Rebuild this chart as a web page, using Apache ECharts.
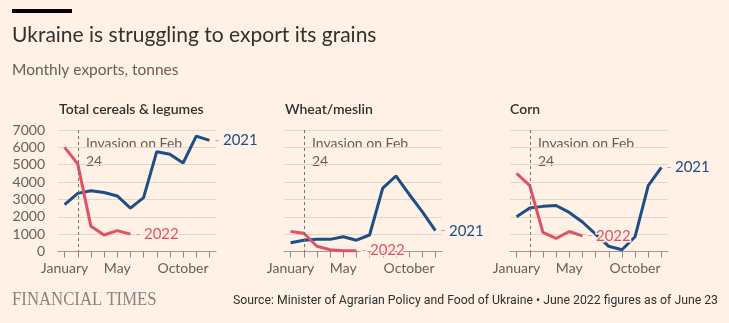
<!DOCTYPE html>
<html>
<head>
<meta charset="utf-8">
<script src="https://cdn.jsdelivr.net/npm/echarts@6/dist/echarts.min.js"></script>
<style>
html,body{margin:0;padding:0;background:#fff1e5;}
#c{width:729px;height:323px;}
</style>
</head>
<body>
<div id="c"></div>
<script>
// ---- Data ----
var months = ['Jan','Feb','Mar','Apr','May','Jun','Jul','Aug','Sep','Oct','Nov','Dec'];
var tickLabels = ['January','','','','May','','','','','October','',''];
var yTicks = [0,1000,2000,3000,4000,5000,6000,7000];
var panelTitles = ['Total cereals & legumes','Wheat/meslin','Corn'];

var total2021 = [2700,3350,3500,3400,3200,2500,3100,5750,5600,5100,6650,6400];
var total2022 = [6000,5050,1450,950,1200,1000];
var wheat2021 = [500,650,700,700,850,650,950,3650,4350,3300,2300,1200];
var wheat2022 = [1150,1050,300,100,50,50];
var corn2021  = [2000,2500,2600,2650,2250,1700,1000,300,100,850,3800,4850];
var corn2022  = [4500,3800,1100,750,1150,900];

var annotation = ['Invasion on Feb','24'];
var invasionMonth = 'Feb';
var sourceText = 'Source: Minister of Agrarian Policy and Food of Ukraine \u2022 June 2022 figures as of June 23';

// ---- Style ----
var BG = '#fff1e5';
var BLUE = '#1d4f86';
var RED = '#e25266';
var GRID = '#e3d6cb';
var TXT = '#33302e';
var SUB = '#66605c';
var FONT = 'Lato, "Open Sans", sans-serif';

var chart = echarts.init(document.getElementById('c'), null, {renderer:'canvas'});

var lefts = [58, 284, 510];
var grids = [], xAxes = [], yAxes = [], series = [];
var data21 = [total2021, wheat2021, corn2021];
var data22 = [total2022, wheat2022, corn2022];

function endLabel(color, year){
  return {
    show:true, distance:5,
    formatter:'{d|-} {t|'+year+'}',
    rich:{
      d:{color:'#b3aaa2', fontSize:14, fontFamily:FONT, textBorderColor:BG, textBorderWidth:3},
      t:{color:color, fontSize:15, fontFamily:FONT, textBorderColor:BG, textBorderWidth:3}
    }
  };
}

for (var i=0;i<3;i++){
  grids.push({left:lefts[i], top:130, width:158, height:121.5, containLabel:false});
  xAxes.push({
    type:'category', gridIndex:i, data:months, boundaryGap:true,
    axisLine:{show:true, lineStyle:{color:'#a39a93', width:1}},
    axisTick:{show:true, alignWithLabel:true, interval:0, length:6, lineStyle:{color:'#8f8781'}},
    axisLabel:{
      interval:function(idx){ return tickLabels[idx] !== ''; },
      formatter:function(v, idx){ return tickLabels[idx]; },
      color:SUB, fontSize:14, fontFamily:FONT, margin:10
    },
    splitLine:{show:false}
  });
  yAxes.push({
    type:'value', gridIndex:i, min:yTicks[0], max:yTicks[yTicks.length-1], interval:1000,
    axisLine:{show:false}, axisTick:{show:false},
    axisLabel:{show:i===0, color:SUB, fontSize:14, fontFamily:FONT, margin:13,
      formatter:function(v){ return String(v); }},
    splitLine:{show:true, lineStyle:{color:GRID, width:1}}
  });
  series.push({
    type:'line', xAxisIndex:i, yAxisIndex:i, data:data21[i],
    symbol:'none', lineStyle:{color:BLUE, width:3}, itemStyle:{color:BLUE},
    endLabel:endLabel(BLUE,'2021'), z:3,
    markLine:{
      silent:true, symbol:'none',
      lineStyle:{color:'#77706b', type:[3,3], width:1},
      label:{show:false},
      data:[[{coord:[invasionMonth, yTicks[yTicks.length-1]]},{coord:[invasionMonth, yTicks[0]]}]]
    }
  });
  series.push({
    type:'line', xAxisIndex:i, yAxisIndex:i, data:data22[i],
    symbol:'none', lineStyle:{color:RED, width:3}, itemStyle:{color:RED},
    endLabel:endLabel(RED,'2022'), z:4
  });
}

// fit source line width to ~485px
var srcFont = '13px Roboto, "Open Sans", sans-serif';
var cv = document.createElement('canvas').getContext('2d');
cv.font = srcFont;
var srcW = cv.measureText(sourceText).width || 485;
var srcScale = 485 / srcW;

var graphics = [
  {type:'rect', left:12, top:9, shape:{width:60, height:4}, style:{fill:'#000'}},
  {type:'text', left:12, top:25, style:{text:'Ukraine is struggling to export its grains', fill:TXT, font:'21px '+FONT}},
  {type:'text', left:12, top:62, style:{text:'Monthly exports, tonnes', fill:SUB, font:'15.5px '+FONT}},
  {type:'text', x:12, y:291, scaleX:0.93, style:{text:'FINANCIAL TIMES', fill:'#8a837e', font:'18px "Liberation Serif", serif'}},
  {type:'text', x:233, y:294, scaleX:srcScale, style:{text:sourceText, fill:TXT, font:srcFont}}
];
var titleX = [59, 285, 510];
var annX = [86, 312, 538];
for (var j=0;j<3;j++){
  graphics.push({type:'text', left:titleX[j], top:102, style:{text:panelTitles[j], fill:TXT, font:'600 14px '+FONT}});
  graphics.push({type:'text', left:annX[j], top:134, style:{text:annotation.join('\n'), fill:SUB, font:'14px '+FONT, lineHeight:18.5}});
}

chart.setOption({
  backgroundColor:BG,
  animation:false,
  grid:grids, xAxis:xAxes, yAxis:yAxes, series:series,
  graphic:graphics
});
</script>
</body>
</html>
